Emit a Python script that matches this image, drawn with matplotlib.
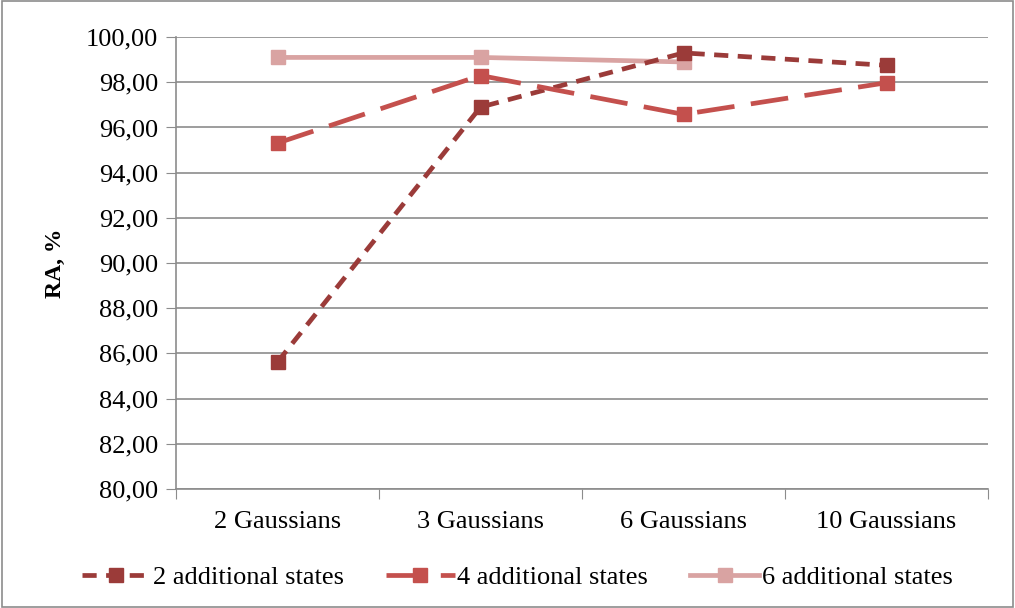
import numpy as np
import matplotlib.pyplot as plt
from matplotlib.ticker import FuncFormatter

plt.rcParams['font.family'] = ['Liberation Serif', 'DejaVu Serif']

categories = ['2 Gaussians', '3 Gaussians', '6 Gaussians', '10 Gaussians']
states2 = [85.62, 96.90, 99.30, 98.75]
states4 = [95.31, 98.30, 96.58, 97.98]
states6 = [99.10, 99.10, 98.90]

DARK = '#9B3B39'
MID = '#C4504D'
LIGHT = '#D9A3A2'

fig = plt.figure(figsize=(10.15, 6.08), dpi=100)
ax = fig.add_axes([0.1734, 0.1957, 0.8, 0.7433])
fig.patches.append(plt.Rectangle((0.002, 0.002), 0.996, 0.996, transform=fig.transFigure,
                                 fill=False, edgecolor='#8c8c8c', linewidth=1.2))

x = np.arange(len(categories))
ax.plot(x, states2, color=DARK, lw=3.4, dashes=(3, 2), marker='s', ms=10,
        label='2 additional states', zorder=3)
ax.plot(x, states4, color=MID, lw=3.4, dashes=(8, 3.5), marker='s', ms=10,
        label='4 additional states', zorder=3)
ax.plot(x[:len(states6)], states6, color=LIGHT, lw=3.4, marker='s', ms=10,
        label='6 additional states', zorder=2)

ax.set_xlim(-0.5, 3.5)
ax.set_ylim(80, 100)
ax.set_yticks(np.arange(80, 101, 2))
ax.yaxis.set_major_formatter(FuncFormatter(lambda v, p: f'{v:.2f}'.replace('.', ',')))
ax.set_xticks(np.arange(-0.5, 3.6, 1))
ax.set_xticklabels([])
ax.set_xticks(x, minor=True)
ax.set_xticklabels(categories, minor=True)
ax.tick_params(axis='x', which='minor', length=0, pad=16, labelsize=19)
ax.tick_params(axis='x', which='major', length=7, color='#8c8c8c', direction='out')
ax.tick_params(axis='y', length=7, color='#8c8c8c', labelsize=19, pad=6)
ax.grid(axis='y', color='#8c8c8c', lw=1.2)
ax.set_axisbelow(True)
for s in ['top', 'right']:
    ax.spines[s].set_visible(False)
for s in ['left', 'bottom']:
    ax.spines[s].set_color('#8c8c8c')
    ax.spines[s].set_linewidth(1.2)
ax.set_ylabel('RA, %', fontsize=17, fontweight='bold', labelpad=14)

ax.legend(loc='center', bbox_to_anchor=(0.42, -0.196), ncol=3, frameon=False,
          fontsize=19, handlelength=2.6, columnspacing=1.6, handletextpad=0.1)

fig.savefig('out.png', dpi=100)
